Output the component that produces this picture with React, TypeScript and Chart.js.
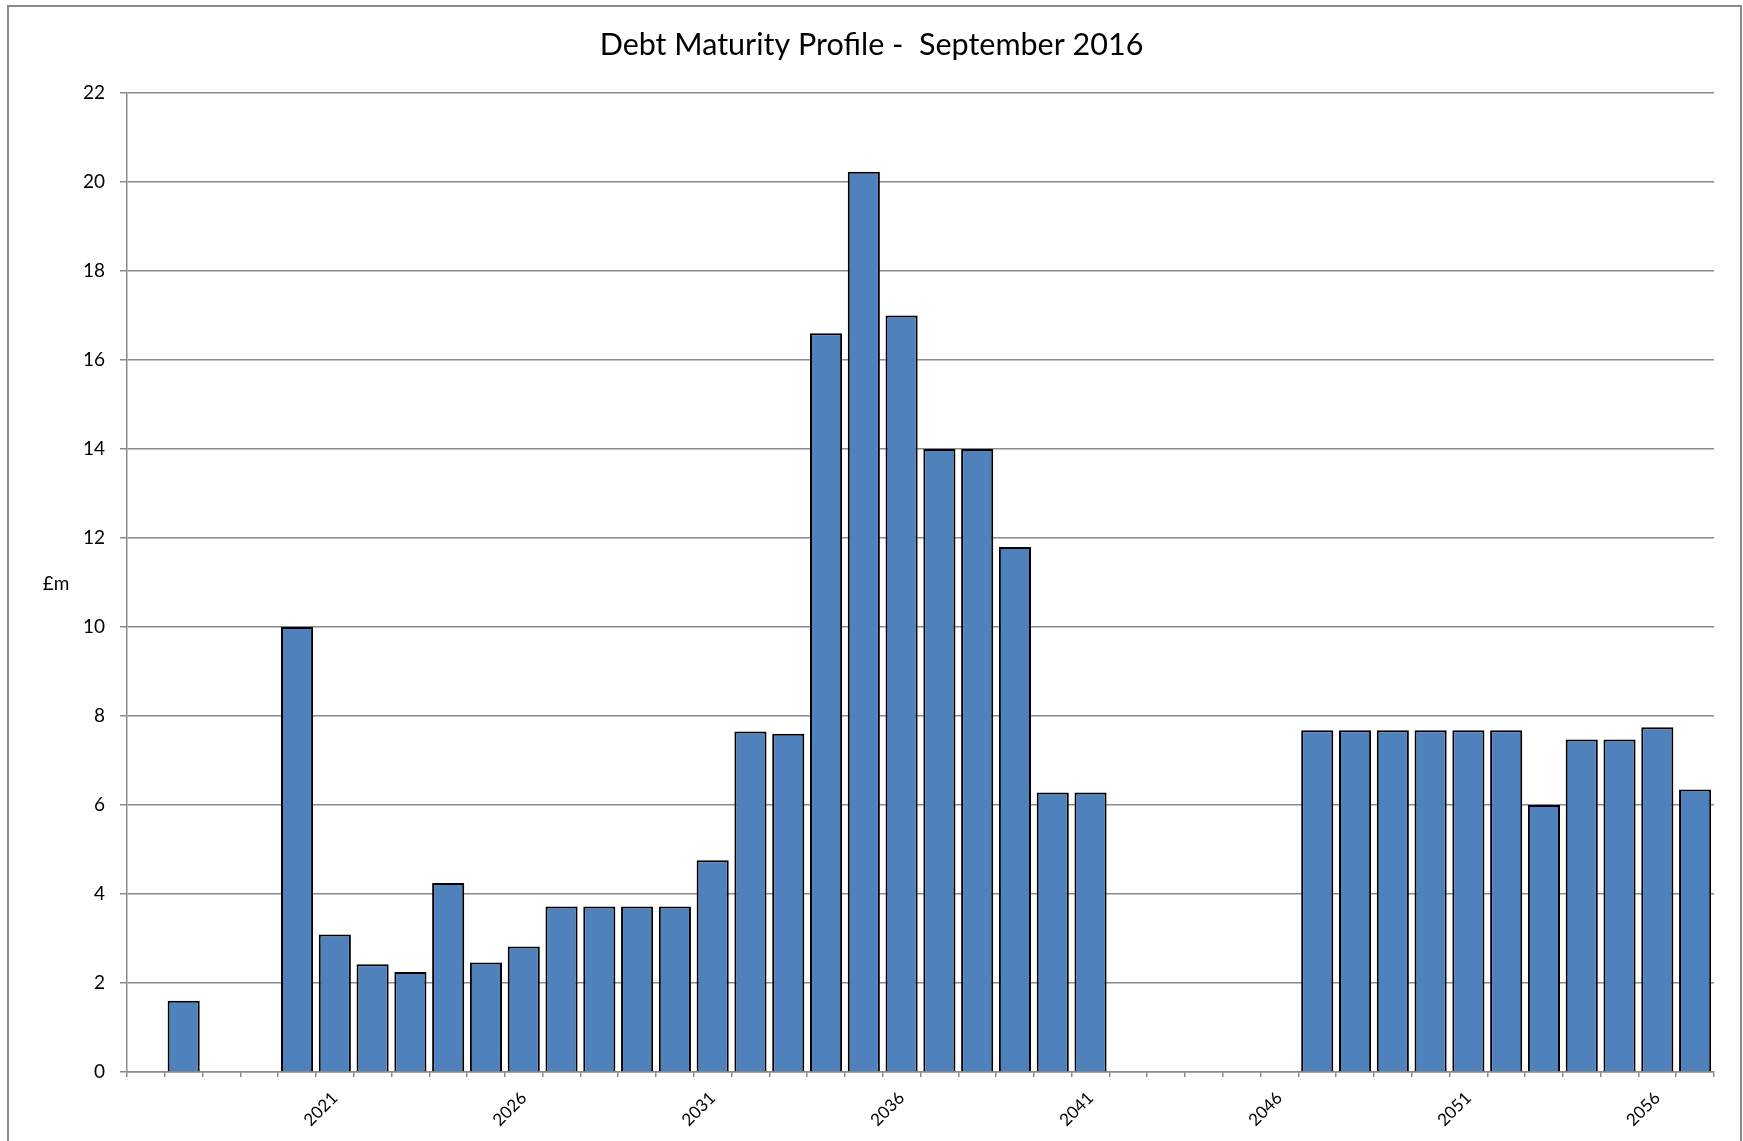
import React, { useEffect, useRef } from "react";
import { Chart, registerables } from "chart.js";

Chart.register(...registerables);

const TITLE = "Debt Maturity Profile -  September 2016";
const Y_TITLE = "£m";

const years: string[] = [
  "2016", "2017", "2018", "2019", "2020", "2021", "2022", "2023", "2024", "2025",
  "2026", "2027", "2028", "2029", "2030", "2031", "2032", "2033", "2034", "2035",
  "2036", "2037", "2038", "2039", "2040", "2041", "2042", "2043", "2044", "2045",
  "2046", "2047", "2048", "2049", "2050", "2051", "2052", "2053", "2054", "2055",
  "2056", "2057",
];

const debtMaturing: (number | null)[] = [
  null, 1.6, null, null, 10.0, 3.09, 2.42, 2.25, 4.25, 2.46,
  2.82, 3.72, 3.72, 3.72, 3.72, 4.76, 7.65, 7.6, 16.6, 20.23,
  17.0, 14.0, 14.0, 11.8, 6.28, 6.28, null, null, null, null,
  null, 7.68, 7.68, 7.68, 7.68, 7.68, 7.68, 6.0, 7.47, 7.47,
  7.75, 6.35,
];

const labelledYears: string[] = ["2021", "2026", "2031", "2036", "2041", "2046", "2051", "2056"];

const FONT = "Lato, 'Noto Sans', sans-serif";
const GRID = "#8a8a8a";

export default function App() {
  const ref = useRef<HTMLCanvasElement | null>(null);

  useEffect(() => {
    if (!ref.current) return;
    const decor = {
      id: "decor",
      beforeDraw(chart: any) {
        const ctx = chart.ctx;
        ctx.save();
        ctx.fillStyle = "#ffffff";
        ctx.fillRect(0, 0, chart.width, chart.height);
        ctx.strokeStyle = GRID;
        ctx.lineWidth = 2;
        ctx.strokeRect(8, 6, 1733, 1200);
        ctx.restore();
      },
      afterDraw(chart: any) {
        const ctx = chart.ctx;
        ctx.save();
        ctx.fillStyle = "#000";
        ctx.textAlign = "center";
        ctx.textBaseline = "middle";
        ctx.font = `30.5px ${FONT}`;
        ctx.fillText(TITLE, chart.width / 2, 45);
        ctx.font = `19px ${FONT}`;
        ctx.fillText(Y_TITLE, 56, 584);
        ctx.restore();
      },
    };

    const chart = new Chart(ref.current, {
      type: "bar",
      data: {
        labels: years,
        datasets: [
          {
            label: "Debt maturing",
            data: debtMaturing,
            backgroundColor: "#4F81BD",
            borderColor: "#000000",
            borderWidth: 2,
            borderSkipped: "start",
            categoryPercentage: 1,
            barPercentage: 0.85,
          },
        ],
      },
      options: {
        animation: false,
        responsive: false,
        maintainAspectRatio: false,
        devicePixelRatio: 1,
        layout: { padding: { top: 93, right: 29, bottom: 0, left: 0 } },
        plugins: {
          legend: { display: false },
          title: { display: false },
          tooltip: { enabled: false },
        },
        scales: {
          x: {
            offset: true,
            afterFit(scale: any) {
              scale.height = 69;
            },
            grid: {
              offset: true,
              drawOnChartArea: false,
              drawTicks: true,
              tickLength: 5,
              color: GRID,
              lineWidth: 1.5,
            },
            border: { display: true, color: GRID, width: 1.5 },
            ticks: {
              autoSkip: false,
              minRotation: 45,
              maxRotation: 45,
              padding: 11,
              color: "#000",
              font: { family: FONT, size: 17 },
              callback(_v: any, i: number) {
                const y = years[i];
                return labelledYears.includes(y) ? y : "";
              },
            },
          },
          y: {
            min: 0,
            max: 22,
            afterFit(scale: any) {
              scale.width = 127;
            },
            grid: {
              color: GRID,
              lineWidth: 1.5,
              drawTicks: true,
              tickLength: 7,
            },
            border: { display: true, color: GRID, width: 1.5 },
            ticks: {
              stepSize: 2,
              padding: 15,
              color: "#000",
              font: { family: FONT, size: 19 },
            },
          },
        },
      },
      plugins: [decor],
    });
    return () => chart.destroy();
  }, []);

  return (
    <div style={{ position: "fixed", left: 0, top: 0, width: 1743, height: 1141, background: "#fff" }}>
      <canvas ref={ref} width={1743} height={1141} style={{ display: "block", width: 1743, height: 1141 }} />
    </div>
  );
}
